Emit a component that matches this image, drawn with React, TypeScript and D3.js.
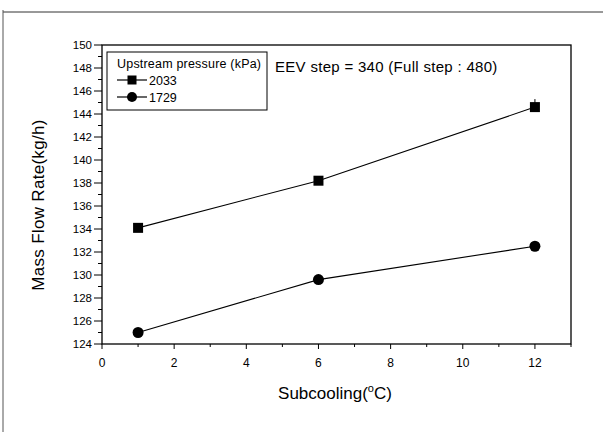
import React from "react";
import * as d3 from "d3";

const xValues = [1, 6, 12];
const series2033 = [134.1, 138.2, 144.6];
const series1729 = [125.0, 129.6, 132.5];
const xTicks = [0, 2, 4, 6, 8, 10, 12];
const yTicks = [124, 126, 128, 130, 132, 134, 136, 138, 140, 142, 144, 146, 148, 150];

export default function App() {
  const W = 603, H = 432;
  const left = 102, right = 571, top = 45, bottom = 344;
  const x = d3.scaleLinear().domain([0, 13]).range([left, right]);
  const y = d3.scaleLinear().domain([124, 150]).range([bottom, top]);
  const line = d3.line<number>().x((_, i) => x(xValues[i])).y((d) => y(d));
  const font = "Liberation Sans, Arial, sans-serif";
  const minorX = d3.range(0, 14, 1);
  const minorY = d3.range(124, 151, 1);
  return (
    <svg width={W} height={H} style={{ position: "absolute", left: 0, top: 0, background: "#fff" }} fontFamily={font}>
      <rect width={W} height={H} fill="#fff" />
      {/* outer frame */}
      <line x1={3} y1={12} x2={603} y2={12} stroke="#333" strokeWidth={1} />
      <line x1={3} y1={10} x2={3} y2={432} stroke="#555" strokeWidth={1} />
      {/* plot frame */}
      <rect x={left} y={top} width={right - left} height={bottom - top} fill="none" stroke="#000" strokeWidth={1.3} />
      {/* y ticks */}
      {minorY.map((v) => (
        <line key={"my" + v} x1={left} x2={left - (v % 2 === 0 ? 8 : 4)} y1={y(v)} y2={y(v)} stroke="#000" />
      ))}
      {yTicks.map((v) => (
        <text key={"ty" + v} x={left - 10} y={y(v) + 4} fontSize={11.5} textAnchor="end" fill="#000">{v}</text>
      ))}
      {/* x ticks */}
      {minorX.map((v) => (
        <line key={"mx" + v} x1={x(v)} x2={x(v)} y1={bottom} y2={bottom + (v % 2 === 0 ? 5 : 3)} stroke="#000" />
      ))}
      {xTicks.map((v) => (
        <text key={"tx" + v} x={x(v)} y={bottom + 23} fontSize={12} textAnchor="middle" fill="#000">{v}</text>
      ))}
      {/* axis titles */}
      <text x={335} y={399} fontSize={17} textAnchor="middle" fill="#000">
        Subcooling(<tspan fontSize={11} dy={-7}>o</tspan><tspan dy={7}>C)</tspan>
      </text>
      <text transform={`translate(44,205) rotate(-90)`} fontSize={17} textAnchor="middle" fill="#000" letterSpacing={0.3}>
        Mass Flow Rate(kg/h)
      </text>
      {/* lines */}
      <path d={line(series2033) || ""} fill="none" stroke="#000" strokeWidth={1.1} />
      <path d={line(series1729) || ""} fill="none" stroke="#000" strokeWidth={1.1} />
      <line x1={x(12)} x2={x(12)} y1={y(144.6) - 8} y2={y(144.6)} stroke="#000" />
      {series2033.map((v, i) => (
        <rect key={"s" + i} x={x(xValues[i]) - 5} y={y(v) - 5} width={10} height={10} fill="#000" />
      ))}
      {series1729.map((v, i) => (
        <circle key={"c" + i} cx={x(xValues[i])} cy={y(v)} r={5.5} fill="#000" />
      ))}
      {/* legend */}
      <rect x={107} y={52} width={160} height={58} fill="#fff" stroke="#000" strokeWidth={1} />
      <text x={117} y={68} fontSize={12.5} fill="#000" letterSpacing={0.2}>Upstream pressure (kPa)</text>
      <line x1={117} x2={147} y1={80} y2={80} stroke="#000" strokeWidth={1.2} />
      <rect x={127.5} y={75.5} width={9} height={9} fill="#000" />
      <text x={149} y={85} fontSize={12.5} fill="#000">2033</text>
      <line x1={117} x2={147} y1={97} y2={97} stroke="#000" strokeWidth={1.2} />
      <circle cx={132} cy={97} r={5} fill="#000" />
      <text x={149} y={102} fontSize={12.5} fill="#000">1729</text>
      {/* annotation */}
      <text x={275} y={72} fontSize={15} fill="#000" letterSpacing={0.3}>EEV step = 340 (Full step : 480)</text>
    </svg>
  );
}
